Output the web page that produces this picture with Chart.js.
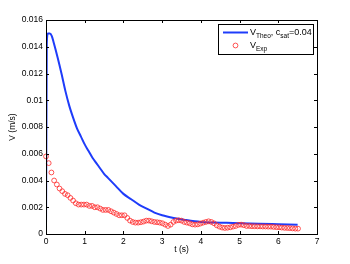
<!DOCTYPE html>
<html>
<head>
<meta charset="utf-8">
<script src="https://cdn.jsdelivr.net/npm/chart.js@4"></script>
<style>
  html, body { margin: 0; padding: 0; background: #fff; }
  #wrap { width: 350px; height: 264px; position: relative; }
</style>
</head>
<body>
<div id="wrap"><canvas id="myChart" width="350" height="264"></canvas></div>
<script>
// theoretical curve
const theoT = [0, 0.02, 0.05, 0.1, 0.15, 0.2, 0.3, 0.4, 0.5, 0.6, 0.7, 0.8, 0.9, 1.0, 1.1, 1.2, 1.3, 1.4, 1.5, 1.6, 1.8, 2.0, 2.2, 2.4, 2.6, 2.8, 3.0, 3.3, 3.6, 4.0, 4.5, 5.0, 5.5, 6.0, 6.5];
const theoV = [0, 0.0142, 0.0150, 0.0150, 0.0148, 0.0143, 0.0132, 0.0120, 0.0107, 0.0096, 0.0087, 0.0079, 0.0073, 0.0067, 0.0062, 0.0057, 0.0053, 0.0049, 0.0045, 0.0042, 0.0036, 0.0030, 0.0026, 0.0022, 0.0019, 0.0016, 0.0014, 0.0012, 0.00105, 0.0009, 0.00085, 0.0008, 0.00076, 0.00073, 0.0007];

// measured points
const expT = [0, 0.07, 0.14, 0.21, 0.28, 0.35, 0.42, 0.49, 0.56, 0.63, 0.70, 0.77, 0.84, 0.91, 0.98, 1.05, 1.12, 1.19, 1.26, 1.33,
  1.40, 1.47, 1.54, 1.61, 1.68, 1.75, 1.82, 1.89, 1.96, 2.03, 2.10, 2.17, 2.24, 2.31, 2.38, 2.45, 2.52, 2.59, 2.66, 2.73,
  2.80, 2.87, 2.94, 3.01, 3.08, 3.15, 3.22, 3.29, 3.36, 3.43, 3.50, 3.57, 3.64, 3.71, 3.78, 3.85, 3.92, 3.99, 4.06, 4.13,
  4.20, 4.27, 4.34, 4.41, 4.48, 4.55, 4.62, 4.69, 4.76, 4.83, 4.90, 4.97, 5.04, 5.11, 5.18, 5.25, 5.32, 5.39, 5.46, 5.53,
  5.60, 5.67, 5.74, 5.81, 5.88, 5.95, 6.02, 6.09, 6.16, 6.23, 6.30, 6.37, 6.44, 6.51];
const expV = [0.0058, 0.0053, 0.0046, 0.0040, 0.0037, 0.0034, 0.0032, 0.0030, 0.0029, 0.0027, 0.0025, 0.0023, 0.0022, 0.0022, 0.0022, 0.0022, 0.0021, 0.0021, 0.0020, 0.0020,
  0.0019, 0.0018, 0.0018, 0.0018, 0.0017, 0.0016, 0.0015, 0.0014, 0.0014, 0.0014, 0.0012, 0.0010, 0.0009, 0.00085, 0.00085, 0.00088, 0.00093, 0.0010, 0.0010, 0.00095,
  0.0009, 0.00088, 0.00085, 0.0008, 0.0007, 0.0006, 0.0007, 0.0009, 0.0010, 0.00103, 0.0010, 0.0009, 0.00085, 0.0008, 0.00072, 0.0007, 0.00072, 0.00078, 0.00085, 0.0009,
  0.00095, 0.0009, 0.0008, 0.00065, 0.00055, 0.00048, 0.00045, 0.00047, 0.0005, 0.00055, 0.0006, 0.00068, 0.0007, 0.00066, 0.0006, 0.0006, 0.00058, 0.00058, 0.00057, 0.00057,
  0.00056, 0.00056, 0.00055, 0.00055, 0.00053, 0.00051, 0.0005, 0.00048, 0.00046, 0.00045, 0.00044, 0.00042, 0.0004, 0.0004];

const xTicks = [0, 1, 2, 3, 4, 5, 6, 7];
const xTickLabels = ['0', '1', '2', '3', '4', '5', '6', '7'];
const yTicks = [0, 0.002, 0.004, 0.006, 0.008, 0.01, 0.012, 0.014, 0.016];
const yTickLabels = ['0', '0.002', '0.004', '0.006', '0.008', '0.01', '0.012', '0.014', '0.016'];

const blue = 'rgb(30,60,250)';
const red = 'rgb(255,40,40)';
const font = 'Liberation Sans';

// box round the plot with inward ticks, plus the legend
const boxPlugin = {
    id: 'box',
    afterDraw(chart) {
        const ctx = chart.ctx;
        const a = chart.chartArea;
        const xs = chart.scales.x, ys = chart.scales.y;
        ctx.save();
        ctx.strokeStyle = '#000';
        ctx.lineWidth = 1;
        ctx.strokeRect(a.left + 0.5, a.top + 0.5, a.right - a.left, a.bottom - a.top);
        ctx.beginPath();
        xTicks.forEach(v => {
            const px = Math.round(xs.getPixelForValue(v)) + 0.5;
            ctx.moveTo(px, a.bottom); ctx.lineTo(px, a.bottom - 3);
            ctx.moveTo(px, a.top); ctx.lineTo(px, a.top + 3);
        });
        yTicks.forEach(v => {
            const py = Math.round(ys.getPixelForValue(v)) + 0.5;
            ctx.moveTo(a.left, py); ctx.lineTo(a.left + 3, py);
            ctx.moveTo(a.right, py); ctx.lineTo(a.right - 3, py);
        });
        ctx.stroke();

        // legend
        const lx = 218, ly = 24, lw = 95, lh = 30;
        ctx.fillStyle = '#fff';
        ctx.fillRect(lx, ly, lw, lh);
        ctx.strokeRect(lx + 0.5, ly + 0.5, lw, lh);
        ctx.strokeStyle = blue;
        ctx.lineWidth = 2;
        ctx.beginPath();
        ctx.moveTo(223, 32.5); ctx.lineTo(248, 32.5);
        ctx.stroke();
        ctx.strokeStyle = red;
        ctx.lineWidth = 0.8;
        ctx.beginPath();
        ctx.arc(235.5, 45.5, 2.4, 0, Math.PI * 2);
        ctx.stroke();

        ctx.fillStyle = '#000';
        ctx.textBaseline = 'alphabetic';
        ctx.textAlign = 'left';
        const big = '9px "' + font + '"', small = '6.5px "' + font + '"';
        function run(parts, x, y) {
            parts.forEach(p => {
                ctx.font = p[1] ? small : big;
                ctx.fillText(p[0], x, y + (p[1] ? 3 : 0));
                x += ctx.measureText(p[0]).width;
            });
        }
        run([['V', 0], ['Theo', 1], [', c', 0], ['sat', 1], ['=0.04', 0]], 250, 35);
        run([['V', 0], ['Exp', 1]], 250, 48);
        ctx.restore();
    }
};

let ctx = document.getElementById('myChart').getContext('2d');
let chart = new Chart(ctx, {
    type: 'line',
    data: {
        datasets: [{
            label: 'V_Exp',
            data: expT.map((t, i) => ({ x: t, y: expV[i] })),
            showLine: false,
            clip: false,
            borderColor: red,
            backgroundColor: 'rgba(0,0,0,0)',
            pointRadius: 2.4,
            pointBorderWidth: 0.8,
            pointStyle: 'circle'
        }, {
            label: 'V_Theo, c_sat=0.04',
            data: theoT.map((t, i) => ({ x: t, y: theoV[i] })),
            borderColor: blue,
            borderWidth: 2,
            pointRadius: 0,
            cubicInterpolationMode: 'monotone',
            fill: false
        }]
    },
    options: {
        responsive: false,
        animation: false,
        layout: { padding: { left: 8, right: 33, top: 20, bottom: 9 } },
        plugins: { legend: { display: false }, tooltip: { enabled: false } },
        scales: {
            x: {
                type: 'linear', min: 0, max: 7,
                afterBuildTicks: s => { s.ticks = xTicks.map(v => ({ value: v })); },
                afterFit: s => { s.height = 21; },
                grid: { display: false, drawTicks: false },
                border: { display: false },
                ticks: {
                    color: '#000', padding: 3,
                    font: { family: font, size: 8.5 },
                    callback: (v, i) => xTickLabels[i]
                },
                title: { display: true, text: 't (s)', color: '#000', padding: 0, font: { family: font, size: 8.5 } }
            },
            y: {
                type: 'linear', min: 0, max: 0.016,
                afterBuildTicks: s => { s.ticks = yTicks.map(v => ({ value: v })); },
                afterFit: s => { s.width = 38; },
                grid: { display: false, drawTicks: false },
                border: { display: false },
                ticks: {
                    color: '#000', padding: 3,
                    font: { family: font, size: 8.5 },
                    callback: (v, i) => yTickLabels[i]
                },
                title: { display: true, text: 'V (m/s)', color: '#000', padding: 0, font: { family: font, size: 8.5 } }
            }
        }
    },
    plugins: [boxPlugin]
});
</script>
</body>
</html>
